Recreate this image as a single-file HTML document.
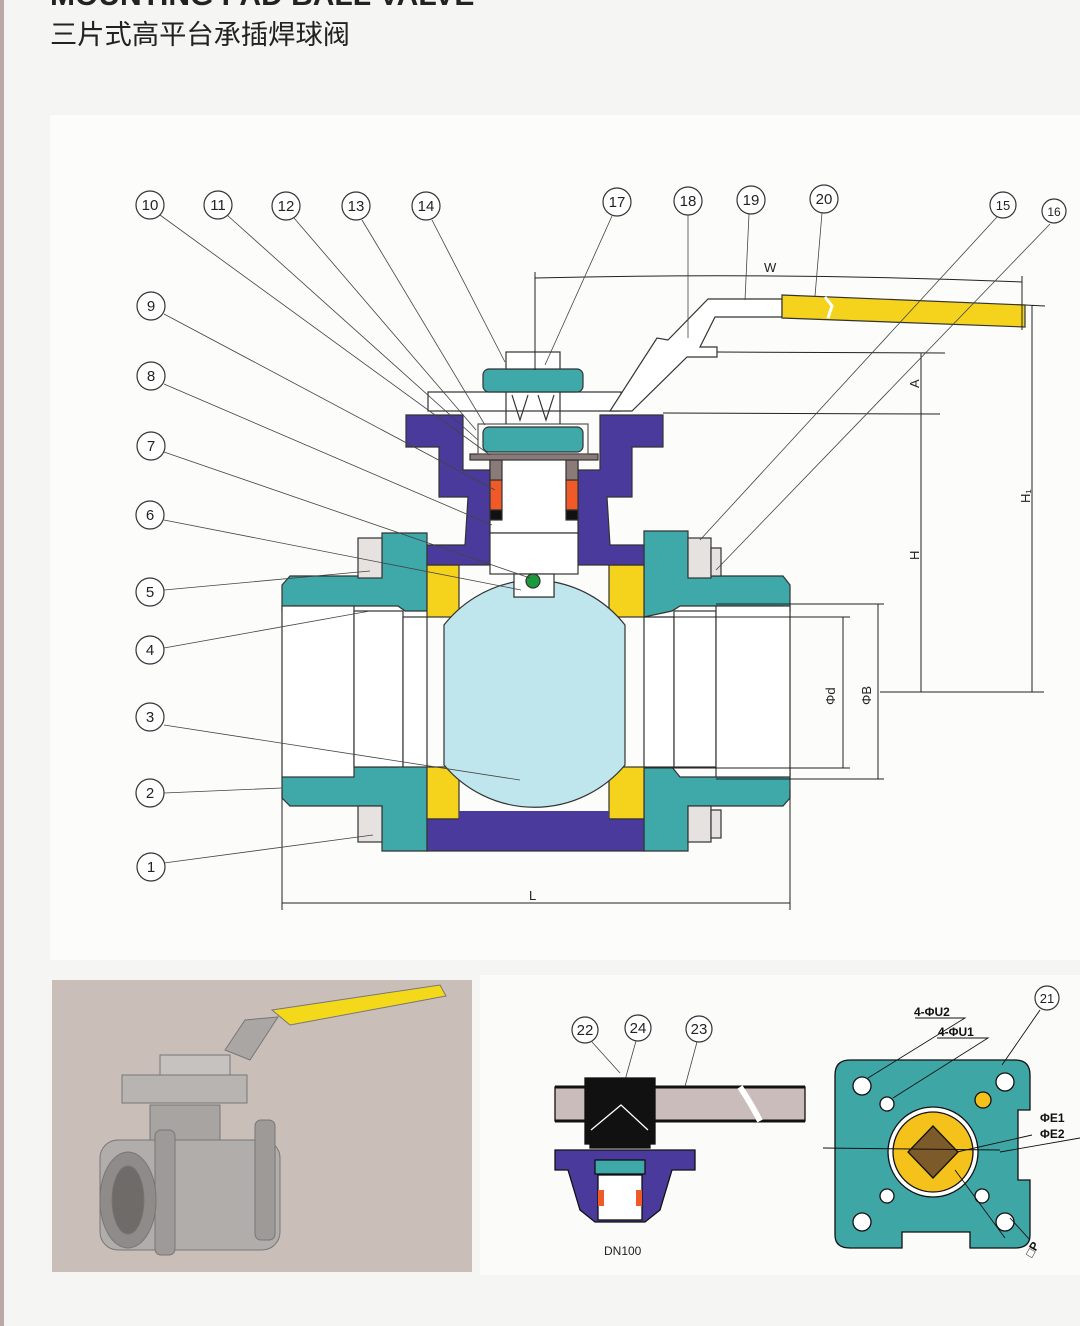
<!DOCTYPE html>
<html><head><meta charset="utf-8"><style>
html,body{margin:0;padding:0;background:#f5f5f3;}
svg{display:block}
</style></head><body>
<svg width="1080" height="1326" viewBox="0 0 1080 1326" xmlns="http://www.w3.org/2000/svg" font-family="Liberation Sans, sans-serif">
<rect x="0" y="0" width="1080" height="1326" fill="#f5f5f3"/>
<rect x="0" y="0" width="4" height="1326" fill="#b9a9a6"/>
<rect x="50" y="115" width="1030" height="845" fill="#fcfcfb"/>
<rect x="480" y="975" width="600" height="300" fill="#fbfbfa"/>
<text x="50" y="5" font-size="30" font-weight="bold" fill="#222">MOUNTING PAD BALL VALVE</text>
<text x="50" y="44" font-size="27" fill="#222" font-family="Liberation Sans, Noto Sans CJK SC, sans-serif" textLength="300" lengthAdjust="spacingAndGlyphs">三片式高平台承插焊球阀</text>

<g stroke="#333" stroke-width="1.2">
<path d="M282,585 L290,576 L382,576 L382,533 L427,533 L427,611 L405,611 L398,606 L290,606 L282,611 Z" fill="#3fa9a9"/>
<path d="M282,777 L290,767 L398,767 L405,764 L427,764 L427,851 L382,851 L382,806 L290,806 L282,798 Z" fill="#3fa9a9"/>
<path d="M644,531 L688,531 L688,576 L783,576 L790,585 L790,611 L783,606 L680,606 L672,611 L644,617 Z" fill="#3fa9a9"/>
<path d="M644,767 L672,767 L680,777 L783,777 L790,770 L790,798 L783,806 L688,806 L688,851 L644,851 Z" fill="#3fa9a9"/>
<rect x="282" y="606" width="72" height="171" fill="#fff"/>
<rect x="354" y="611" width="49" height="156" fill="#fff"/>
<rect x="403" y="617" width="24" height="150" fill="#fff"/>
<rect x="644" y="617" width="30" height="150" fill="#fff"/>
<rect x="674" y="611" width="42" height="156" fill="#fff"/>
<rect x="716" y="606" width="74" height="171" fill="#fff"/>
<rect x="358" y="538" width="24" height="40" fill="#e6e2e0"/>
<rect x="358" y="806" width="24" height="36" fill="#e6e2e0"/>
<rect x="688" y="538" width="23" height="40" fill="#e6e2e0"/>
<rect x="711" y="548" width="10" height="28" fill="#e6e2e0"/>
<rect x="688" y="806" width="23" height="36" fill="#e6e2e0"/>
<rect x="711" y="810" width="10" height="28" fill="#e6e2e0"/>
<rect x="427" y="565" width="32" height="52" fill="#f5d21c"/>
<rect x="427" y="767" width="32" height="52" fill="#f5d21c"/>
<rect x="609" y="565" width="35" height="52" fill="#f5d21c"/>
<rect x="609" y="767" width="35" height="52" fill="#f5d21c"/>
<path d="M427,819 L644,819 L644,851 L427,851 Z" fill="#4a3a9c"/>
<rect x="459" y="811" width="150" height="10" fill="#4a3a9c" stroke="none"/>
<path d="M406,415 L463,415 L463,470 L490,470 L490,535 L514,535 L514,565 L427,565 L427,545 L465,545 L468,497 L439,497 L439,447 L406,447 Z" fill="#4a3a9c"/>
<path d="M663,415 L600,415 L600,470 L578,470 L578,535 L554,535 L554,565 L644,565 L644,545 L610,545 L607,497 L632,497 L632,447 L663,447 Z" fill="#4a3a9c"/>
<path d="M444,625 A118,118 0 0 1 514,582 L514,597 L554,597 L554,582 A118,118 0 0 1 625,625 L625,765 A118,118 0 0 1 444,765 Z" fill="#bfe6ec"/>
<rect x="490" y="454" width="88" height="79" fill="#fff"/>
<rect x="490" y="533" width="88" height="41" fill="#fff"/>
<rect x="514" y="574" width="40" height="23" fill="#fff"/>
<circle cx="533" cy="581" r="7" fill="#1a9a3a"/>
<rect x="490" y="480" width="12" height="30" fill="#f05a28"/>
<rect x="566" y="480" width="12" height="30" fill="#f05a28"/>
<rect x="490" y="510" width="12" height="10" fill="#111"/>
<rect x="566" y="510" width="12" height="10" fill="#111"/>
<rect x="490" y="460" width="12" height="20" fill="#8a7a78"/>
<rect x="566" y="460" width="12" height="20" fill="#8a7a78"/>
<rect x="470" y="454" width="128" height="6" fill="#8a7a78"/>
<rect x="478" y="424" width="110" height="30" fill="none" stroke="#555"/>
<rect x="483" y="427" width="100" height="25" rx="6" fill="#3fa9a9"/>
<rect x="428" y="392" width="193" height="19" fill="#fff"/>
<rect x="483" y="369" width="100" height="23" rx="6" fill="#3fa9a9"/>
<rect x="506" y="352" width="54" height="17" fill="#fff"/>
<path d="M506,392 L506,424 M560,392 L560,424 M512,395 L520,420 L528,395 M538,395 L546,420 L554,395" fill="none"/>
<path d="M610,411 L632,411 L687,357 L717,357 L717,347 L700,347 L715,317 L782,317 L782,299 L708,299 L668,340 L657,338 Z" fill="#fff"/>
<path d="M782,295 L1025,305 L1025,327 L782,318 Z" fill="#f5d21c"/>
<path d="M825,297 L832,306 L828,318" fill="none" stroke="#fff" stroke-width="3"/>
</g>
<g stroke="#222" stroke-width="1" fill="none">
<path d="M535,278 Q780,272 1022,282 M535,272 L535,370 M1022,276 L1022,330"/>
<path d="M1025,305 L1045,306 M1032,305 L1032,692 M880,692 L1044,692"/>
<path d="M717,352 L945,353 M921,353 L921,692 M663,413 L940,414"/>
<path d="M644,617 L850,617 M644,768 L850,768 M843,617 L843,768 M716,604 L884,604 M716,779 L884,779 M878,604 L878,779"/>
<path d="M282,790 L282,910 M790,790 L790,910 M282,903 L790,903"/>
</g>
<g font-size="13" fill="#222">
<text x="764" y="272">W</text>
<text x="529" y="900">L</text>
<text transform="translate(919,388) rotate(-90)">A</text>
<text transform="translate(919,560) rotate(-90)">H</text>
<text transform="translate(1030,503) rotate(-90)">H₁</text>
<text transform="translate(835,705) rotate(-90)">Φd</text>
<text transform="translate(871,705) rotate(-90)">ΦB</text>
</g>
<g stroke="#444" stroke-width="0.8" fill="none">
<path d="M160,215 L490,455 M227,215 L478,440 M294,218 L476,430 M362,220 L485,425 M432,220 L505,362"/>
<path d="M612,216 L545,365 M688,215 L688,338 M749,214 L745,300 M822,213 L815,296 M997,217 L700,540 M1050,224 L716,570"/>
<path d="M164,314 L495,490 M164,384 L492,525 M164,452 L530,578 M164,520 L521,590 M164,590 L370,571 M164,648 L370,611 M164,725 L520,780 M164,793 L282,788 M164,863 L373,835"/>
<path d="M592,1042 L620,1073 M636,1041 L618,1105 M697,1042 L680,1105"/>
</g>
<g fill="#fff" stroke="#333" stroke-width="1.2" font-size="15" text-anchor="middle">
<g><circle cx="150" cy="205" r="14"/><circle cx="218" cy="205" r="14"/><circle cx="286" cy="206" r="14"/><circle cx="356" cy="206" r="14"/><circle cx="426" cy="206" r="14"/><circle cx="617" cy="202" r="14"/><circle cx="688" cy="201" r="14"/><circle cx="751" cy="200" r="14"/><circle cx="824" cy="199" r="14"/><circle cx="1003" cy="205" r="13"/><circle cx="1054" cy="211" r="12"/><circle cx="151" cy="306" r="14"/><circle cx="151" cy="376" r="14"/><circle cx="151" cy="446" r="14"/><circle cx="150" cy="515" r="14"/><circle cx="150" cy="592" r="14"/><circle cx="150" cy="650" r="14"/><circle cx="150" cy="717" r="14"/><circle cx="150" cy="793" r="14"/><circle cx="151" cy="867" r="14"/>
<circle cx="585" cy="1030" r="13"/><circle cx="638" cy="1028" r="13"/><circle cx="699" cy="1029" r="13"/><circle cx="1047" cy="998" r="12"/></g>
<g fill="#222" stroke="none">
<text x="150" y="210">10</text><text x="218" y="210">11</text><text x="286" y="211">12</text><text x="356" y="211">13</text><text x="426" y="211">14</text><text x="617" y="207">17</text><text x="688" y="206">18</text><text x="751" y="205">19</text><text x="824" y="204">20</text><text x="1003" y="210" font-size="13">15</text><text x="1054" y="216" font-size="12">16</text>
<text x="151" y="311">9</text><text x="151" y="381">8</text><text x="151" y="451">7</text><text x="150" y="520">6</text><text x="150" y="597">5</text><text x="150" y="655">4</text><text x="150" y="722">3</text><text x="150" y="798">2</text><text x="151" y="872">1</text>
<text x="585" y="1035">22</text><text x="638" y="1033">24</text><text x="699" y="1034">23</text><text x="1047" y="1003" font-size="13">21</text>
</g></g>

<rect x="52" y="980" width="420" height="292" fill="#c9bfb8"/>
<g stroke="#777" stroke-width="1">
<path d="M272,1010 L440,985 L446,996 L290,1025 Z" fill="#f3d91a"/>
<path d="M225,1050 L245,1020 L278,1017 L250,1060 Z" fill="#a9a6a4"/>
<rect x="122" y="1075" width="125" height="28" fill="#b8b4b1"/>
<rect x="160" y="1055" width="70" height="20" fill="#c6c2bf"/>
<rect x="150" y="1105" width="70" height="40" fill="#a8a4a2"/>
<rect x="100" y="1140" width="180" height="110" rx="18" fill="#b1adaa"/>
<rect x="155" y="1130" width="20" height="125" rx="6" fill="#9e9a98"/>
<rect x="255" y="1120" width="20" height="120" rx="6" fill="#9e9a98"/>
<ellipse cx="128" cy="1200" rx="28" ry="48" fill="#8f8b89"/>
<ellipse cx="128" cy="1200" rx="16" ry="34" fill="#6f6b69"/>
</g>

<g stroke="#111" stroke-width="1.3">
<rect x="555" y="1087" width="250" height="34" fill="#c9bcba"/>
<path d="M555,1087 L805,1087 M555,1121 L805,1121" stroke-width="3"/>
<path d="M740,1087 Q752,1105 760,1121" stroke="#fff" stroke-width="6" fill="none"/>
<rect x="585" y="1078" width="70" height="66" fill="#111"/>
<rect x="590" y="1130" width="60" height="18" fill="#111"/>
<path d="M591,1130 L621,1105 L648,1130" stroke="#fff" fill="none"/>
<path d="M555,1150 L695,1150 L695,1170 L672,1170 L660,1210 L645,1222 L595,1222 L580,1210 L568,1170 L555,1170 Z" fill="#4a3a9c"/>
<rect x="595" y="1160" width="50" height="14" fill="#3fa9a9"/>
<rect x="598" y="1175" width="44" height="45" fill="#fff"/>
<rect x="598" y="1190" width="6" height="16" fill="#f05a28" stroke="none"/>
<rect x="636" y="1190" width="6" height="16" fill="#f05a28" stroke="none"/>
</g>
<text x="604" y="1255" font-size="12" fill="#222">DN100</text>

<g stroke="#111" stroke-width="1.3">
<path d="M850,1060 L1015,1060 Q1030,1060 1030,1075 L1030,1110 L1018,1110 L1018,1180 L1030,1180 L1030,1235 Q1030,1248 1015,1248 L970,1248 L970,1232 L902,1232 L902,1248 L850,1248 Q835,1248 835,1235 L835,1075 Q835,1060 850,1060 Z" fill="#3fa6a6"/>
<circle cx="933" cy="1152" r="45" fill="#fff"/>
<circle cx="933" cy="1152" r="40" fill="#f5c21c"/>
<path d="M933,1126 L958,1152 L933,1178 L908,1152 Z" fill="#7d5a2a"/>
<g fill="#fff"><circle cx="862" cy="1086" r="9"/><circle cx="1005" cy="1082" r="9"/><circle cx="862" cy="1222" r="9"/><circle cx="1005" cy="1222" r="9"/><circle cx="887" cy="1104" r="7"/><circle cx="887" cy="1196" r="7"/><circle cx="982" cy="1196" r="7"/></g>
<circle cx="983" cy="1100" r="8" fill="#f5c21c"/>
</g>
<g stroke="#111" stroke-width="0.9" fill="none">
<path d="M915,1018 L965,1018 L868,1078 M937,1038 L988,1038 L893,1098 M823,1148 L1000,1150 M1032,1135 L957,1152 M1080,1138 L1000,1152 M1002,1065 L1040,1010 M955,1170 L1005,1238 M1010,1218 L1030,1240"/>
</g>
<g font-size="12" font-weight="bold" fill="#111">
<text x="914" y="1016">4-ΦU2</text><text x="938" y="1036">4-ΦU1</text>
<text x="1040" y="1122">ΦE1</text><text x="1040" y="1138">ΦE2</text>
<text transform="translate(1032,1258) rotate(-60)">□P</text>
</g>
</svg>
</body></html>
